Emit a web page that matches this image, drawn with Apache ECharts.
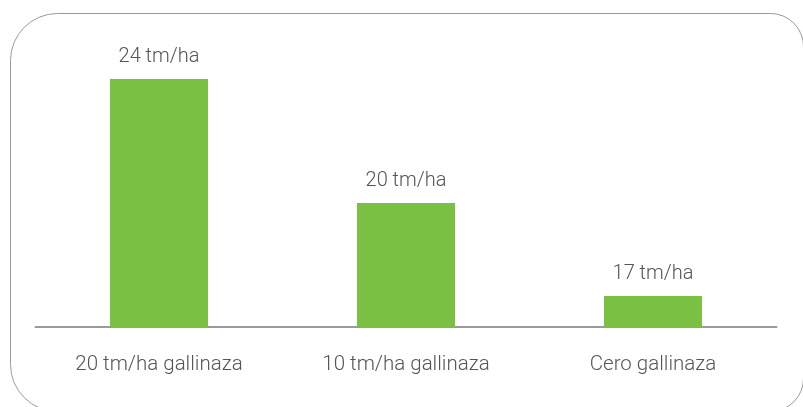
<!DOCTYPE html>
<html><head><meta charset="utf-8">
<script src="https://cdn.jsdelivr.net/npm/echarts@6/dist/echarts.min.js"></script>
<style>html,body{margin:0;padding:0;background:#fff}#c{width:803px;height:407px}</style>
</head><body><div id="c"></div>
<script>
var categories = ['20 tm/ha gallinaza', '10 tm/ha gallinaza', 'Cero gallinaza'];
var values = [24, 20, 17];
var unit = ' tm/ha';

var chart = echarts.init(document.getElementById('c'));
chart.setOption({
  animation: false,
  graphic: [{
    type: 'rect', z: -1,
    shape: {x: 10.5, y: 13.5, width: 793, height: 398, r: [47, 33, 33, 47]},
    style: {fill: 'none', stroke: '#9a9a9a', lineWidth: 1}
  }],
  grid: {left: 35.5, right: 26.5, top: 79, bottom: 80},
  xAxis: {
    type: 'category', data: categories,
    axisLine: {lineStyle: {color: '#9a9a9a', width: 2}},
    axisTick: {show: false},
    axisLabel: {color: '#555', fontSize: 20.5, fontWeight: 300, fontFamily: 'Roboto', margin: 27}
  },
  yAxis: {type: 'value', min: 16, max: 24, show: false, splitLine: {show: false}},
  series: [{
    type: 'bar', data: values, barWidth: 98,
    itemStyle: {color: '#7ac143'},
    label: {show: true, position: 'top', distance: 12, color: '#555', fontSize: 20, fontWeight: 300, fontFamily: 'Roboto',
      formatter: function (p) { return p.value + unit; }}
  }]
});
</script></body></html>
